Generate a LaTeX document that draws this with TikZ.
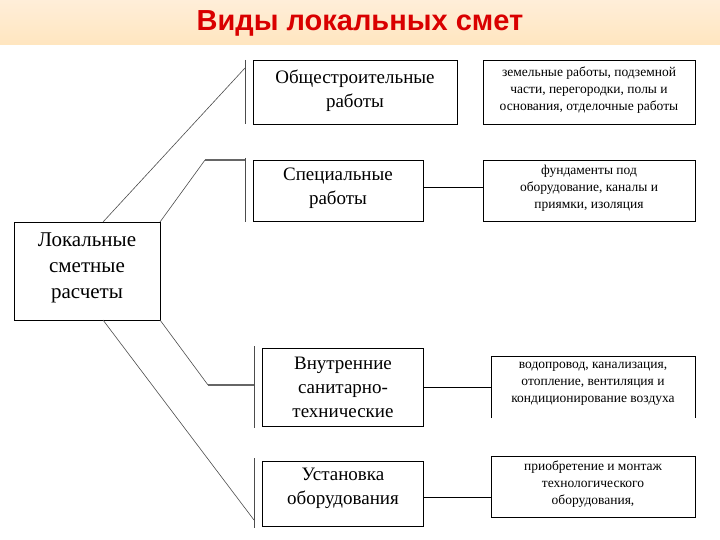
\documentclass[tikz,border=0pt]{standalone}
\usepackage{fontspec}
\setmainfont{Liberation Serif}
\newfontfamily\hdfont{Liberation Sans}
\begin{document}
\begin{tikzpicture}[x=1pt,y=-1pt,
  bx/.style={draw,thick,fill=white,inner sep=0pt},
  big/.style={align=center,font=\fontsize{19}{24}\selectfont},
  small/.style={align=center,font=\fontsize{13.5}{17}\selectfont},
  ln/.style={draw=black!70,line width=0.6pt}]
\useasboundingbox (0,0) rectangle (720,540);
\shade[top color=yellow!12!orange!15,bottom color=yellow!20!orange!25] (0,0) rectangle (720,45);
\node (title) at (360,23) {\hdfont\bfseries\fontsize{29}{33}\selectfont\color{red!85!black}Виды локальных смет};
% main
\draw[bx] (14,222) rectangle (160,320);
\node[big,font=\fontsize{21}{26}\selectfont] (m) at (87,268) {Локальные\\сметные\\расчеты};
\coordinate (mtl) at (103,222); \coordinate (mtr) at (160,222);
\coordinate (mbl) at (103,320); \coordinate (mbr) at (160,320);
% boxes
\draw[bx] (253,60) rectangle (457,124); \node[big] (b1) at (355,91) {Общестроительные\\работы};
\draw[bx] (253,160) rectangle (423,221); \node[big] (b2) at (338,188) {Специальные\\работы};
\draw[bx] (262,348) rectangle (423,426); \node[big] (b3) at (343,387) {Внутренние\\санитарно-\\технические};
\draw[bx] (262,461) rectangle (423,526); \node[big] (b4) at (343,488) {Установка\\оборудования};
% bars
\coordinate (v1a) at (245,60); \coordinate (v1b) at (245,124);
\coordinate (v2a) at (245,158); \coordinate (v2b) at (245,222);
\coordinate (v3a) at (254,346); \coordinate (v3b) at (254,428);
\coordinate (v4a) at (254,458); \coordinate (v4b) at (254,528);
\draw[ln] (v1a)--(v1b); \draw[ln] (v2a)--(v2b); \draw[ln] (v3a)--(v3b); \draw[ln] (v4a)--(v4b);
% descriptions
\draw[bx] (483,60) rectangle (695,124); \node[small] (d1) at (589,90) {земельные работы, подземной\\части, перегородки, полы и\\основания, отделочные работы};
\draw[bx] (483,160) rectangle (695,221); \node[small] (d2) at (589,188) {фундаменты под\\оборудование, каналы и\\приямки, изоляция};
\draw[thick] (491,418)--(491,356)--(695,356)--(695,418); \node[small] (d3) at (593,384) {водопровод, канализация,\\отопление, вентиляция и\\кондиционирование воздуха};
\draw[bx] (491,456) rectangle (695,517); \node[small] (d4) at (593,484) {приобретение и монтаж\\технологического\\оборудования,};
% connectors
\coordinate (c1) at (245,68);
\draw[ln] (mtl)--(c1);
\coordinate (k2) at (205,160); \coordinate (c2) at (245,160);
\draw[ln] (mtr)--(k2); \draw[black!60,line width=1.5pt] (k2)--(c2);
\coordinate (k3) at (208,385); \coordinate (c3) at (254,385);
\draw[ln] (mbr)--(k3); \draw[black!60,line width=1.5pt] (k3)--(c3);
\coordinate (c4) at (254,520);
\draw[ln] (mbl)--(c4);
\draw (423,187)--(483,187);
\draw (423,387)--(491,387);
\draw (423,497)--(491,497);
\end{tikzpicture}
\end{document}
